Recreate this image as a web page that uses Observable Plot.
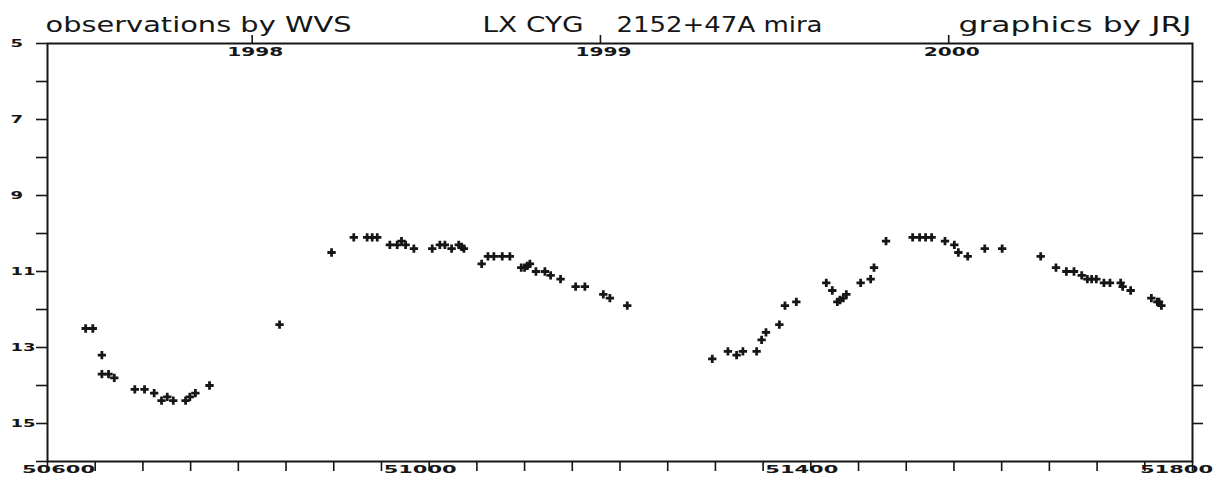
<!DOCTYPE html>
<html><head><meta charset="utf-8">
<script src="https://cdn.jsdelivr.net/npm/d3@7"></script>
<script src="https://cdn.jsdelivr.net/npm/@observablehq/plot@0.6"></script>
<style>body{margin:0;background:#fff}</style>
</head><body><div id="chart"></div>
<script>
// Julian Date - 2400000
const jd = [
  50640, 50647.5, 50657, 50657, 50664, 50670, 50691.5, 50701.7, 50711.8, 50719.5,
  50725.5, 50731.8, 50744.7, 50749.2, 50755, 50769.8, 50843.2, 50897.7, 50921, 50935,
  50940.3, 50945.6, 50958.8, 50966.5, 50971, 50975.3, 50984, 51003.2, 51011.2, 51016.5,
  51023.5, 51031, 51034, 51036.4, 51055, 51061.6, 51067.8, 51076.6, 51084.6, 51096.5,
  51100, 51102.8, 51105.6, 51111.9, 51121.3, 51127.3, 51137.7, 51153.5, 51163.2, 51182.5,
  51189.4, 51207.6,
  51296.7, 51313.1, 51322.2, 51328.8, 51343.2, 51348.4, 51353, 51367, 51372.9, 51384.8,
  51416.2, 51422.5, 51427.8, 51430.5, 51434, 51437.2, 51452.2, 51462.7, 51466.2, 51478.8,
  51506.7, 51514, 51520.3, 51526.6, 51540.6, 51550.4, 51554.6, 51564.4, 51582.3, 51600.5,
  51640.9, 51656.9, 51667.8, 51675.8, 51683.9, 51689.8, 51694.3, 51699.2, 51707.2, 51713.5,
  51724.7, 51726.8, 51735.2, 51756.9, 51763.2, 51764.9, 51767.4
];
// visual magnitude
const mag = [
  12.5, 12.5, 13.2, 13.7, 13.7, 13.8, 14.1, 14.1, 14.2, 14.4,
  14.3, 14.4, 14.4, 14.3, 14.2, 14.0, 12.4, 10.5, 10.1, 10.1,
  10.1, 10.1, 10.3, 10.3, 10.2, 10.3, 10.4, 10.4, 10.3, 10.3,
  10.4, 10.3, 10.35, 10.4, 10.8, 10.6, 10.6, 10.6, 10.6, 10.9,
  10.9, 10.85, 10.8, 11.0, 11.0, 11.1, 11.2, 11.4, 11.4, 11.6,
  11.7, 11.9,
  13.3, 13.1, 13.2, 13.1, 13.1, 12.8, 12.6, 12.4, 11.9, 11.8,
  11.3, 11.5, 11.8, 11.75, 11.7, 11.6, 11.3, 11.2, 10.9, 10.2,
  10.1, 10.1, 10.1, 10.1, 10.2, 10.3, 10.5, 10.6, 10.4, 10.4,
  10.6, 10.9, 11.0, 11.0, 11.1, 11.2, 11.2, 11.2, 11.3, 11.3,
  11.3, 11.4, 11.5, 11.7, 11.8, 11.8, 11.9
];
const yearTicks = [50814.5, 51179.5, 51544.5];      // JD of 1 January
const yearLabels = ["1998", "1999", "2000"];
const xLabelTicks = [50600, 51000, 51400, 51800];
const xMinorTicks = d3.range(50600, 51801, 50);
const yLabelTicks = [5, 7, 9, 11, 13, 15];
const yAllTicks = d3.range(5, 17);
const yRightTicks = d3.range(6, 16);
const titleLeft = "observations by WVS";
const titleStar = "LX CYG";
const titleDesig = "2152+47A mira";
const titleRight = "graphics by JRJ";

const obs = jd.map((d, i) => ({jd: d, mag: mag[i]}));
const years = yearTicks.map((d, i) => ({jd: d, label: yearLabels[i]}));

const ink = "#161616";
const blank = () => "";
const titleFont = {fontFamily: "DejaVu Sans", fontSize: 22, fill: ink, lineAnchor: "bottom", dy: -11.5};
const tickFont = {fontFamily: "DejaVu Sans", fontWeight: "bold", fontSize: 11, fill: ink};
const xLab = (vals, dx) => Plot.text(vals, {...tickFont, x: d => d, text: d => String(d),
  frameAnchor: "bottom", lineAnchor: "top", dy: 4, dx, ariaLabel: () => "x label"});

const plot = Plot.plot({
  width: 1217, height: 481,
  marginTop: 43, marginBottom: 20, marginLeft: 47, marginRight: 25,
  style: {background: "white", fontFamily: "DejaVu Sans", color: ink, overflow: "visible"},
  x: {domain: [50600, 51800], label: null},
  y: {domain: [5, 16], reverse: true, label: null},
  marks: [
    Plot.axisY({ticks: yAllTicks, tickSize: 11, strokeWidth: 1.6, label: null, tickFormat: blank}),
    Plot.text(yLabelTicks, {...tickFont, y: d => d, text: d => String(d), frameAnchor: "left",
      textAnchor: "start", dx: -37, ariaLabel: () => "y label"}),
    Plot.axisY({anchor: "right", ticks: yRightTicks, tickSize: 10, strokeWidth: 1.6, label: null, tickFormat: blank}),
    Plot.axisX({ticks: xMinorTicks, tickSize: 10, strokeWidth: 1.6, label: null, tickFormat: blank}),
    xLab(xLabelTicks.filter(d => d === 50600), 11),
    xLab(xLabelTicks.filter(d => d > 50600 && d < 51800), -9),
    xLab(xLabelTicks.filter(d => d === 51800), -16),
    Plot.axisX({anchor: "top", ticks: yearTicks, tickSize: 9, strokeWidth: 1.6, label: null, tickFormat: blank}),
    Plot.text(years, {...tickFont, fontSize: 12, x: "jd", text: "label", frameAnchor: "top", lineAnchor: "top", dy: 4,
      dx: 3, ariaLabel: () => "year label"}),
    Plot.frame({stroke: ink, strokeWidth: 2}),
    Plot.dot(obs, {x: "jd", y: "mag", symbol: "cross", r: 3.5, fill: ink, stroke: "none"}),
    Plot.text([titleLeft], {...titleFont, text: d => d, frameAnchor: "top-left", textAnchor: "start", dx: -2, ariaLabel: () => "title left"}),
    Plot.text([titleStar], {...titleFont, text: d => d, frameAnchor: "top-left", textAnchor: "start", dx: 435, ariaLabel: () => "title star"}),
    Plot.text([titleDesig], {...titleFont, text: d => d, frameAnchor: "top-left", textAnchor: "start", dx: 569, ariaLabel: () => "title desig"}),
    Plot.text([titleRight], {...titleFont, text: d => d, frameAnchor: "top-right", textAnchor: "end", dx: -1, ariaLabel: () => "title right"})
  ]
});
document.getElementById("chart").append(plot);

// typography: the original uses a wide, squat plotter font
const svg = d3.select(plot);
function stretch(label, perChar, fixed) {
  svg.selectAll(`[aria-label="${label}"]`).each(function() {
    const nodes = this.tagName.toLowerCase() === "text" ? [this] : Array.from(this.querySelectorAll("text"));
    for (const node of nodes) {
      const t = node.textContent;
      if (!t) continue;
      node.setAttribute("textLength", fixed ?? t.length * perChar);
      node.setAttribute("lengthAdjust", "spacingAndGlyphs");
    }
  });
}
stretch("y label", 12.5);
stretch("x label", 14.6);
stretch("year label", 14);
stretch("title left", 0, 306);
stretch("title star", 0, 101);
stretch("title desig", 0, 206);
stretch("title right", 0, 233);
</script>
</body></html>
